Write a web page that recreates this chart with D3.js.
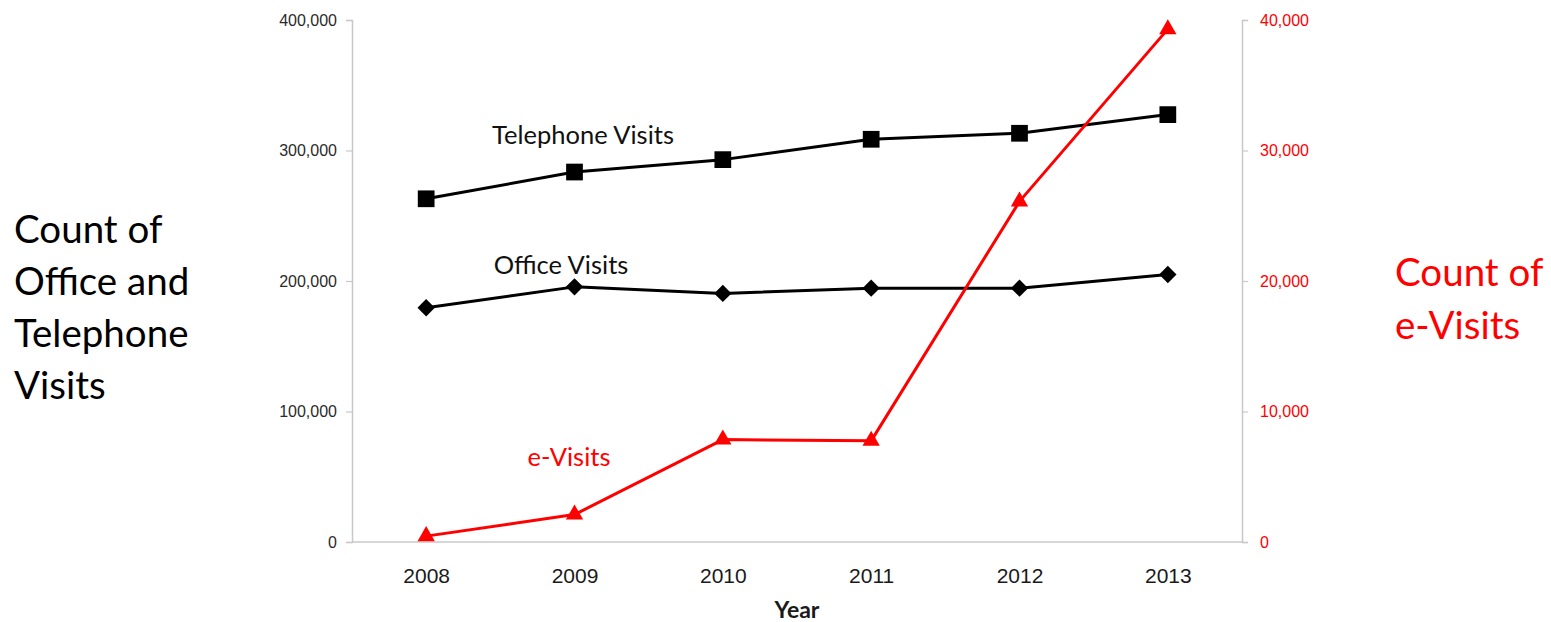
<!DOCTYPE html>
<html>
<head>
<meta charset="utf-8">
<script src="https://cdn.jsdelivr.net/npm/d3@7"></script>
<style>
  html, body { margin: 0; padding: 0; background: #fff; }
  svg { display: block; font-family: Lato, "Open Sans", sans-serif; }
</style>
</head>
<body>
<svg id="chart" width="1551" height="622"></svg>
<script>
// Yearly visit counts
const years = ["2008", "2009", "2010", "2011", "2012", "2013"];
const telephoneVisits = [263000, 283500, 293000, 308600, 313200, 327500];
const officeVisits = [179500, 195500, 190500, 194500, 194500, 205000];
const eVisits = [450, 2100, 7850, 7750, 26100, 39300];
const leftTicks = [0, 100000, 200000, 300000, 400000];
const rightTicks = [0, 10000, 20000, 30000, 40000];

const svg = d3.select("#chart");
const plot = { left: 352, right: 1242, top: 20, bottom: 542 };
const fmt = d3.format(",");

const x = d3.scalePoint().domain(years).range([plot.left, plot.right]).padding(0.5);
const yLeft = d3.scaleLinear().domain([0, 400000]).range([plot.bottom, plot.top]);
const yRight = d3.scaleLinear().domain([0, 40000]).range([plot.bottom, plot.top]);

const axisGrey = "#c8c8c8";
const red = "#ff0000";

// Left axis
const gl = svg.append("g").attr("transform", `translate(${plot.left},0)`)
  .call(d3.axisLeft(yLeft).tickValues(leftTicks).tickFormat(fmt).tickSize(6).tickPadding(9));
gl.select(".domain").attr("stroke", axisGrey).attr("stroke-width", 1.5);
gl.selectAll(".tick line").attr("stroke", axisGrey).attr("stroke-width", 1.2);
gl.selectAll(".tick text").attr("fill", "#2a2a2a").attr("font-size", 16);

// Right axis
const gr = svg.append("g").attr("transform", `translate(${plot.right},0)`)
  .call(d3.axisRight(yRight).tickValues(rightTicks).tickFormat(fmt).tickSize(6).tickPadding(12));
gr.select(".domain").attr("stroke", axisGrey).attr("stroke-width", 1.5);
gr.selectAll(".tick line").attr("stroke", axisGrey).attr("stroke-width", 1.2);
gr.selectAll(".tick text").attr("fill", red).attr("font-size", 16);

// Bottom axis (no tick marks)
const gb = svg.append("g").attr("transform", `translate(0,${plot.bottom})`)
  .call(d3.axisBottom(x).tickSize(0).tickPadding(26));
gb.select(".domain").attr("stroke", axisGrey).attr("stroke-width", 1.5)
  .attr("d", `M${plot.left},0H${plot.right}`);
gb.selectAll(".tick text").attr("fill", "#1a1a1a").attr("font-size", 21);

svg.append("text").attr("x", (plot.left + plot.right) / 2).attr("y", 618)
  .attr("text-anchor", "middle").attr("font-size", 23).attr("font-weight", "bold")
  .attr("fill", "#1a1a1a").text("Year");

// Series lines and markers
function drawSeries(values, scale, color, symbolType, size, rotate) {
  const line = d3.line().x((d, i) => x(years[i])).y(d => scale(d));
  svg.append("path").datum(values).attr("d", line)
    .attr("fill", "none").attr("stroke", color).attr("stroke-width", 3)
    .attr("stroke-linejoin", "round");
  svg.append("g").selectAll("path").data(values).join("path")
    .attr("transform", (d, i) => `translate(${x(years[i])},${scale(d)}) rotate(${rotate})`)
    .attr("d", d3.symbol().type(symbolType).size(size))
    .attr("fill", color);
}

drawSeries(telephoneVisits, yLeft, "#000", d3.symbolSquare, 280, 0);
drawSeries(officeVisits, yLeft, "#000", d3.symbolSquare, 150, 45);
drawSeries(eVisits, yRight, red, d3.symbolTriangle, 130, 0);

// Series labels
svg.append("text").attr("x", 583).attr("y", 144).attr("text-anchor", "middle")
  .attr("font-size", 25.5).attr("fill", "#111").text("Telephone Visits");
svg.append("text").attr("x", 561).attr("y", 274).attr("text-anchor", "middle")
  .attr("font-size", 25.5).attr("fill", "#111").text("Office Visits");
svg.append("text").attr("x", 569).attr("y", 466).attr("text-anchor", "middle")
  .attr("font-size", 25.5).attr("fill", red).text("e-Visits");

// Axis titles
const leftTitle = ["Count of", "Office and", "Telephone", "Visits"];
svg.append("g").selectAll("text").data(leftTitle).join("text")
  .attr("x", 14).attr("y", (d, i) => 243 + i * 52)
  .attr("font-size", 38.5).attr("fill", "#000").text(d => d);

const rightTitle = ["Count of", "e-Visits"];
svg.append("g").selectAll("text").data(rightTitle).join("text")
  .attr("x", 1395).attr("y", (d, i) => 286 + i * 53)
  .attr("font-size", 38.5).attr("fill", red).text(d => d);
</script>
</body>
</html>
